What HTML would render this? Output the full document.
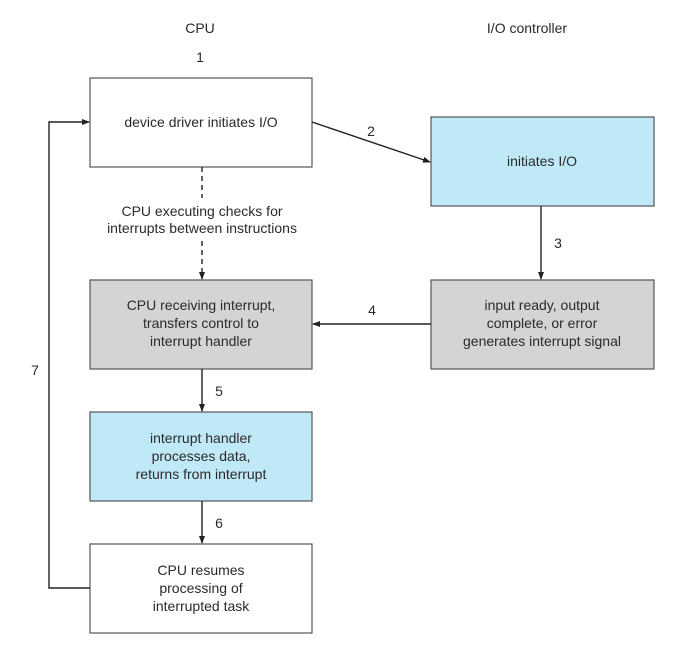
<!DOCTYPE html>
<html><head><meta charset="utf-8"><style>
html,body{margin:0;padding:0;background:#fff;}
svg text{font-family:"Liberation Sans",sans-serif;font-size:14px;fill:#2a2a2a;text-anchor:middle;}
</style></head><body>
<svg width="674" height="647" viewBox="0 0 674 647" xmlns="http://www.w3.org/2000/svg">
<defs><marker id="a" markerWidth="8" markerHeight="8" refX="7" refY="4" orient="auto" markerUnits="userSpaceOnUse"><path d="M0,1 L8,4 L0,7 z" fill="#222"/></marker></defs>
<text x="200" y="33">CPU</text>
<text x="527" y="33">I/O controller</text>
<text x="200" y="62">1</text>
<g stroke="#555" stroke-width="1.2">
<rect x="90" y="78" width="222" height="89" fill="#fff"/>
<rect x="431" y="117" width="223" height="89" fill="#c0e9f8"/>
<rect x="90" y="280" width="222" height="89" fill="#d3d4d6"/>
<rect x="431" y="280" width="223" height="89" fill="#d3d4d6"/>
<rect x="90" y="412" width="222" height="89" fill="#c0e9f8"/>
<rect x="90" y="544" width="222" height="89" fill="#fff"/>
</g>
<g stroke="#222" stroke-width="1.4" fill="none">
<line x1="312" y1="122" x2="430" y2="162" marker-end="url(#a)"/>
<line x1="541" y1="206" x2="541" y2="279" marker-end="url(#a)"/>
<line x1="431" y1="324" x2="313" y2="324" marker-end="url(#a)"/>
<line x1="202" y1="369" x2="202" y2="411" marker-end="url(#a)"/>
<line x1="202" y1="501" x2="202" y2="543" marker-end="url(#a)"/>
<polyline points="90,588 49,588 49,122 89,122" marker-end="url(#a)"/>
<line x1="202" y1="167" x2="202" y2="198" stroke-dasharray="5,4"/>
<line x1="202" y1="241" x2="202" y2="279" stroke-dasharray="5,4" marker-end="url(#a)"/>
</g>
<text x="201" y="127">device driver initiates I/O</text>
<text x="542" y="166">initiates I/O</text>
<text x="202" y="216">CPU executing checks for</text>
<text x="202" y="233">interrupts between instructions</text>
<text x="201" y="310">CPU receiving interrupt,</text>
<text x="201" y="328">transfers control to</text>
<text x="201" y="346">interrupt handler</text>
<text x="542" y="310">input ready, output</text>
<text x="542" y="328">complete, or error</text>
<text x="542" y="346">generates interrupt signal</text>
<text x="201" y="443">interrupt handler</text>
<text x="201" y="461">processes data,</text>
<text x="201" y="479">returns from interrupt</text>
<text x="201" y="575">CPU resumes</text>
<text x="201" y="593">processing of</text>
<text x="201" y="611">interrupted task</text>
<text x="371" y="136">2</text>
<text x="558" y="248">3</text>
<text x="372" y="315">4</text>
<text x="219" y="396">5</text>
<text x="219" y="528">6</text>
<text x="35" y="375">7</text>
</svg>
</body></html>
